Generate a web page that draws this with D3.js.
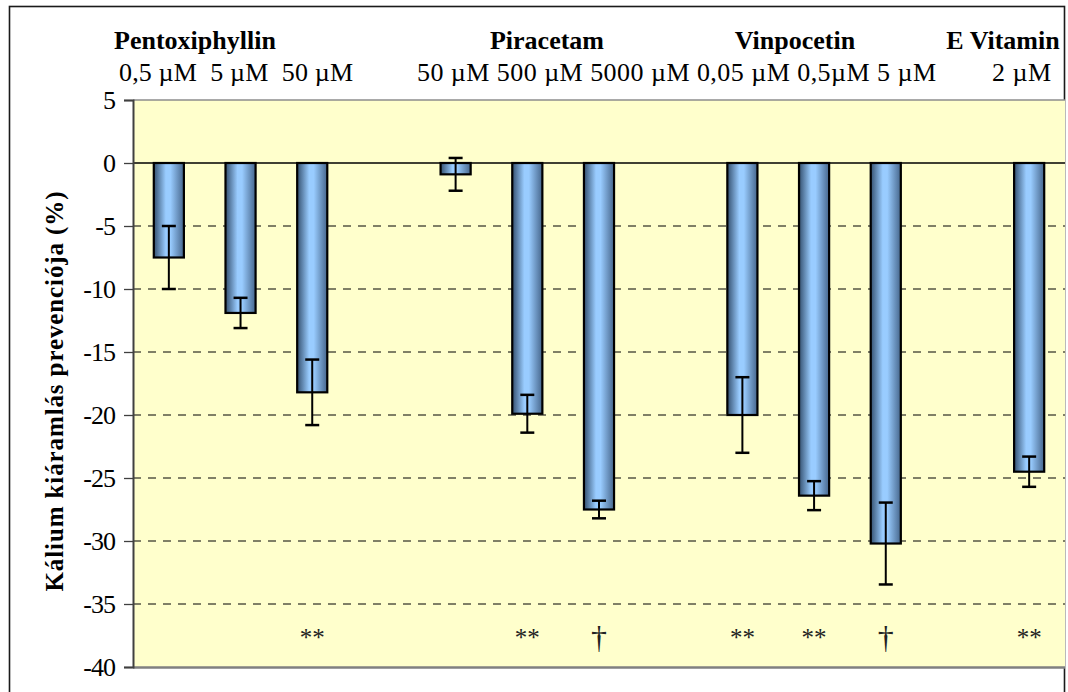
<!DOCTYPE html>
<html>
<head>
<meta charset="utf-8">
<script src="https://cdn.jsdelivr.net/npm/d3@7"></script>
<style>
  html, body { margin: 0; padding: 0; background: #ffffff; }
  svg { display: block; }
</style>
</head>
<body>
<svg id="chart" width="1068" height="692"></svg>
<script>
// Potassium efflux prevention (%) per compound and concentration
const groups = ["Pentoxiphyllin", "Piracetam", "Vinpocetin", "E Vitamin"];
const groupOf = [0, 0, 0, 1, 1, 1, 2, 2, 2, 3];
const concentrations = ["0,5 µM", "5 µM", "50 µM", "50 µM", "500 µM", "5000 µM", "0,05 µM", "0,5µM", "5 µM", "2 µM"];
const values = [-7.5, -11.9, -18.2, -0.9, -19.9, -27.5, -20.0, -26.4, -30.2, -24.5];
const errors = [2.5, 1.2, 2.6, 1.3, 1.5, 0.7, 3.0, 1.15, 3.25, 1.2];
const markers = ["", "", "**", "", "**", "\u2020", "**", "**", "\u2020", "**"];
const yTicks = [5, 0, -5, -10, -15, -20, -25, -30, -35, -40];
const yTitle = "Kálium kiáramlás prevenciója (%)";

const SERIF = "'Liberation Serif', 'Tinos', 'Times New Roman', 'DejaVu Serif', serif";

// slot order on the x axis, with one empty slot between compound groups
const slots = [];
groupOf.forEach((g, i) => {
  if (i > 0 && groupOf[i - 1] !== g) slots.push("gap" + g);
  slots.push("c" + i);
});

const svg = d3.select("#chart");
const plot = { left: 133, right: 1065, top: 100, bottom: 667 };

const x = d3.scaleBand()
  .domain(slots)
  .range([plot.left, plot.right])
  .paddingInner(0.58)
  .paddingOuter(0.29);

const y = d3.scaleLinear().domain([-40, 5]).range([plot.bottom, plot.top]);

// outer frame
svg.append("rect")
  .attr("x", 9.5).attr("y", 6.5)
  .attr("width", 1055).attr("height", 720)
  .attr("fill", "#ffffff")
  .attr("stroke", "#1a1a1a").attr("stroke-width", 1.6);

// plot background
svg.append("rect")
  .attr("x", plot.left).attr("y", plot.top)
  .attr("width", plot.right - plot.left).attr("height", plot.bottom - plot.top)
  .attr("fill", "#ffffcc");

// gridlines
svg.append("g")
  .selectAll("line")
  .data(yTicks.filter(t => t !== 0 && t !== 5 && t !== -40))
  .join("line")
  .attr("x1", plot.left).attr("x2", plot.right)
  .attr("y1", d => y(d)).attr("y2", d => y(d))
  .attr("stroke", "#000").attr("stroke-width", 1)
  .attr("stroke-dasharray", "8,7");

// plot border (top and bottom)
svg.append("line")
  .attr("x1", plot.left).attr("x2", plot.right)
  .attr("y1", plot.top).attr("y2", plot.top)
  .attr("stroke", "#8c8c8c").attr("stroke-width", 1.5);
svg.append("line")
  .attr("x1", plot.left).attr("x2", plot.right)
  .attr("y1", plot.bottom + 0.5).attr("y2", plot.bottom + 0.5)
  .attr("stroke", "#808080").attr("stroke-width", 2.5);

// zero line
svg.append("line")
  .attr("x1", plot.left).attr("x2", plot.right)
  .attr("y1", y(0)).attr("y2", y(0))
  .attr("stroke", "#000").attr("stroke-width", 1.3);

// y axis
const yAxis = d3.axisLeft(y).tickValues(yTicks).tickSize(9).tickPadding(9).tickFormat(d3.format("d"));
const ya = svg.append("g")
  .attr("transform", `translate(${plot.left},0)`)
  .call(yAxis)
  .attr("font-family", SERIF)
  .attr("font-size", 26);
ya.select(".domain").attr("stroke", "#404040").attr("stroke-width", 2);
ya.selectAll(".tick line").attr("stroke", "#404040").attr("stroke-width", 1.3);
ya.selectAll(".tick text")
  .attr("font-family", SERIF)
  .attr("font-size", 26)
  .attr("letter-spacing", -1)
  .attr("fill", "#000")
  .text(d => d < 0 ? "-" + Math.abs(d) : String(d));

// bar gradient
const defs = svg.append("defs");
const grad = defs.append("linearGradient").attr("id", "barGrad")
  .attr("x1", "0%").attr("x2", "100%").attr("y1", "0%").attr("y2", "0%");
grad.append("stop").attr("offset", "0%").attr("stop-color", "#34506f");
grad.append("stop").attr("offset", "40%").attr("stop-color", "#99ccff");
grad.append("stop").attr("offset", "55%").attr("stop-color", "#99ccff");
grad.append("stop").attr("offset", "100%").attr("stop-color", "#46668c");

const data = values.map((v, i) => ({
  key: "c" + i, value: v, err: errors[i], marker: markers[i]
}));

// bars
svg.append("g")
  .selectAll("rect")
  .data(data)
  .join("rect")
  .attr("x", d => x(d.key))
  .attr("width", x.bandwidth())
  .attr("y", d => y(Math.max(0, d.value)))
  .attr("height", d => Math.abs(y(d.value) - y(0)))
  .attr("fill", "url(#barGrad)")
  .attr("stroke", "#000").attr("stroke-width", 2.2);

// error bars
const eb = svg.append("g").attr("stroke", "#000").attr("stroke-width", 2);
data.forEach(d => {
  const cx = x(d.key) + x.bandwidth() / 2;
  eb.append("line").attr("x1", cx).attr("x2", cx)
    .attr("y1", y(d.value + d.err)).attr("y2", y(d.value - d.err));
  [d.value + d.err, d.value - d.err].forEach(v => {
    eb.append("line").attr("x1", cx - 7).attr("x2", cx + 7)
      .attr("y1", y(v)).attr("y2", y(v)).attr("stroke-width", 2.5);
  });
});

// significance markers
svg.append("g")
  .selectAll("text")
  .data(data.filter(d => d.marker))
  .join("text")
  .attr("x", d => x(d.key) + x.bandwidth() / 2)
  .attr("y", y(-37.6))
  .attr("dy", "0.35em")
  .attr("text-anchor", "middle")
  .attr("font-family", SERIF)
  .attr("font-size", d => d.marker === "**" ? 25 : 32)
  .attr("fill", "#222")
  .text(d => d.marker);

// group titles
const groupTitleX = [195, 547, 795, 1003];
svg.append("g")
  .selectAll("text")
  .data(groups)
  .join("text")
  .attr("x", (d, i) => groupTitleX[i])
  .attr("y", 49)
  .attr("text-anchor", "middle")
  .attr("font-family", SERIF)
  .attr("font-size", 26)
  .attr("font-weight", "bold")
  .attr("fill", "#000")
  .text(d => d);

// concentration lines (one line per run of groups)
const concLines = [
  { x: 119, width: 234, members: [0, 1, 2], sep: "\u00a0\u00a0" },
  { x: 417, width: 519, members: [3, 4, 5, 6, 7, 8], sep: " " },
  { x: 992, width: 59, members: [9], sep: " " }
];
svg.append("g")
  .selectAll("text")
  .data(concLines)
  .join("text")
  .attr("x", d => d.x)
  .attr("y", 81)
  .attr("textLength", d => d.width)
  .attr("lengthAdjust", "spacing")
  .attr("font-family", SERIF)
  .attr("font-size", 26)
  .attr("fill", "#000")
  .text(d => d.members.map(i => concentrations[i]).join(d.sep));

// y axis title
svg.append("text")
  .attr("transform", `translate(63, ${(190 + 593) / 2}) rotate(-90)`)
  .attr("text-anchor", "middle")
  .attr("textLength", 400)
  .attr("lengthAdjust", "spacing")
  .attr("font-family", SERIF)
  .attr("font-size", 25)
  .attr("font-weight", "bold")
  .attr("fill", "#000")
  .text(yTitle);
</script>
</body>
</html>
